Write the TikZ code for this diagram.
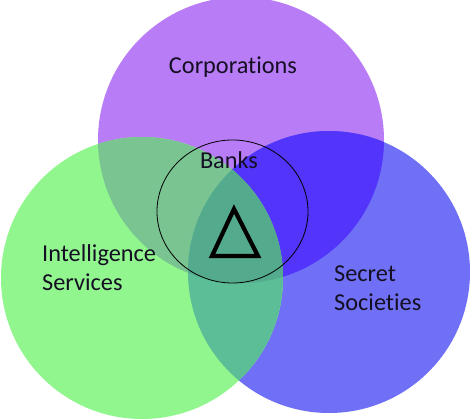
\documentclass[tikz,border=0pt]{standalone}
\usepackage{fontspec}
\setmainfont{Carlito}[Ligatures={NoCommon}]
\definecolor{cP}{RGB}{184,124,246}
\definecolor{cG}{RGB}{146,246,142}
\definecolor{cB}{RGB}{112,112,246}
\definecolor{cPG}{RGB}{122,196,146}
\definecolor{cPB}{RGB}{82,52,250}
\definecolor{cGB}{RGB}{92,190,150}
\definecolor{cPGB}{RGB}{84,170,140}
\definecolor{txt}{RGB}{20,15,35}
\tikzset{lbl/.style={font=\fontsize{24.3}{29}\selectfont, text=txt, inner sep=0pt},
  lbll/.style={lbl, align=left, anchor=west}}
\begin{document}
\begin{tikzpicture}[x=1pt,y=-1pt]
\useasboundingbox (0,0) rectangle (474,420);
\fill[white] (0,0) rectangle (474,420);
\def\cPur{(241,140) circle (143)}
\def\cGrn{(142,278) circle (141)}
\def\cBlu{(329,272) circle (141)}
\fill[cP] \cPur;
\fill[cB] \cBlu;
\fill[cG] \cGrn;
\begin{scope}\clip \cPur; \fill[cPB] \cBlu; \fill[cPG] \cGrn; \end{scope}
\begin{scope}\clip \cBlu; \fill[cGB] \cGrn; \end{scope}
\begin{scope}\clip \cPur; \clip \cBlu; \fill[cPGB] \cGrn; \end{scope}
\node[lbl] (corp) at (233,67) {Corporations};
\node[lbll] (intel) at (42,268) {Intelligence\\Services};
\node[lbll] (secret) at (334,288) {Secret\\Societies};
\draw[black, line width=0.8pt] (232.5,211.5) ellipse [x radius=75.5, y radius=71.5];
\node[lbl] (banks) at (229,160) {Banks};
\coordinate (ta) at (234,209);
\coordinate (tl) at (212,256);
\coordinate (tr) at (258,256);
\draw[black, line width=4.2pt, line join=miter] (ta) -- (tl) -- (tr) -- cycle;
\end{tikzpicture}
\end{document}
